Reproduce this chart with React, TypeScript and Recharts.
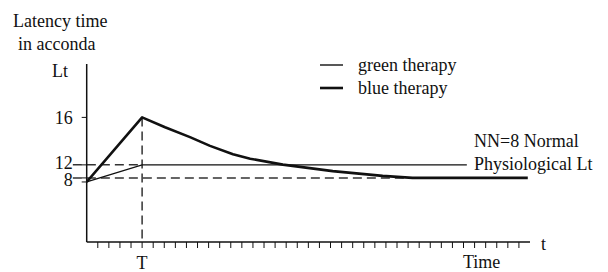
import React from "react";
import { LineChart, Line, XAxis, YAxis, ReferenceLine, Legend } from "recharts";

// Blue therapy curve (time units, Lt level units)
const blueTime = [0, 5, 7.07, 9.32, 11.13, 13.2, 14.75, 17.7, 22.2, 26.7, 29.4, 39.8];
const blueLt = [10.56, 16, 15.17, 14.34, 13.6, 12.89, 12.52, 12.02, 11.47, 11.07, 10.9, 10.9];
// Green therapy curve
const greenTime = [0, 5, 34.3];
const greenLt = [10.56, 12, 12];

const seriesNames = ["green therapy", "blue therapy"];

const yTicks = [10.56, 10.9, 12, 16];
const yTickLabels = ["", "8", "12", "16"];

const xTicks = [
  1, 2, 3, 4, 5, 6, 7, 8, 9, 10, 11, 12, 13, 14, 15, 16, 17, 18, 19, 20,
  21, 22, 23, 24, 25, 26, 27, 28, 29, 30, 31, 32, 33, 34, 35, 36, 37, 38, 39,
];
const tMark = 5;
const tMarkLabel = "T";

const normalLt = 10.9;
const therapyLt = 12;
const peakLt = 16;
const normalEnd = 29.4;

const blueData = blueTime.map((t, i) => ({ t, lt: blueLt[i] }));
const greenData = greenTime.map((t, i) => ({ t, lt: greenLt[i] }));

const FONT = "'Liberation Serif', 'Times New Roman', Times, 'DejaVu Serif', serif";
const FS = 18;
const INK = "#111";

const legendWidths = [1.4, 2.6];
// small vertical nudges so the crowded "12"/"8" labels sit as in the reference
const yLabelNudge: Record<string, number> = { "12": -2, "8": 2, "16": 1 };

const LegendContent = (props: any) => {
  const payload = [...(props.payload || [])].sort(
    (a: any, b: any) => seriesNames.indexOf(a.value) - seriesNames.indexOf(b.value)
  );
  return (
    <svg width={240} height={46} style={{ display: "block" }}>
      {payload.map((p: any, i: number) => (
        <g key={i}>
          <line x1={0} x2={23} y1={9 + i * 23} y2={9 + i * 23} stroke={INK} strokeWidth={legendWidths[i]} />
          <text x={38} y={14.5 + i * 23} style={{ fontFamily: FONT, fontSize: FS }} fill={INK}>
            {p.value}
          </text>
        </g>
      ))}
    </svg>
  );
};

const YTick = (props: any) => {
  const { x, y, payload } = props;
  const label = yTickLabels[yTicks.indexOf(payload.value)] ?? "";
  if (!label) return null;
  return (
    <text
      x={x}
      y={y + (yLabelNudge[label] || 0)}
      textAnchor="end"
      dominantBaseline="central"
      style={{ fontFamily: FONT, fontSize: FS }}
      fill={INK}
    >
      {label}
    </text>
  );
};

const tickStyle = { fontSize: FS, fontFamily: FONT, fill: INK, style: { fontFamily: FONT } };

export default function App() {
  const dash = "9 5";
  return (
    <div style={{ position: "relative", width: 600, height: 264, fontFamily: FONT }}>
      <LineChart
        width={600}
        height={264}
        margin={{ top: 56, right: 78, bottom: 0, left: 18.7 }}
        style={{ fontFamily: FONT }}
      >
        <XAxis
          type="number"
          dataKey="t"
          domain={[0, 40]}
          ticks={xTicks}
          interval={0}
          allowDataOverflow
          tickSize={6}
          tickMargin={8}
          height={30}
          tickFormatter={(v: number) => (v === tMark ? tMarkLabel : "")}
          axisLine={{ stroke: INK, strokeWidth: 1.5 }}
          tickLine={{ stroke: INK, strokeWidth: 1 }}
          tick={tickStyle}
        />
        <YAxis
          type="number"
          dataKey="lt"
          domain={[5.5, 20.5]}
          ticks={yTicks}
          interval={0}
          allowDataOverflow
          width={60}
          tickSize={5}
          tickMargin={9}
          axisLine={{ stroke: INK, strokeWidth: 1.5 }}
          tickLine={{ stroke: INK, strokeWidth: 1 }}
          tick={<YTick />}
        />
        <ReferenceLine
          segment={[{ x: -1.25, y: therapyLt }, { x: tMark, y: therapyLt }]}
          ifOverflow="visible"
          stroke="#333"
          strokeWidth={1.5}
          strokeDasharray={dash}
        />
        <ReferenceLine
          segment={[{ x: -1.25, y: normalLt }, { x: normalEnd, y: normalLt }]}
          ifOverflow="visible"
          stroke="#333"
          strokeWidth={1.5}
          strokeDasharray={dash}
        />
        <ReferenceLine
          segment={[{ x: tMark, y: peakLt }, { x: tMark, y: 5.5 }]}
          ifOverflow="visible"
          stroke="#333"
          strokeWidth={1.5}
          strokeDasharray={dash}
        />
        <Line
          data={greenData}
          dataKey="lt"
          name={seriesNames[0]}
          type="linear"
          stroke={INK}
          strokeWidth={1.4}
          dot={false}
          isAnimationActive={false}
        />
        <Line
          data={blueData}
          dataKey="lt"
          name={seriesNames[1]}
          type="linear"
          stroke={INK}
          strokeWidth={2.6}
          dot={false}
          strokeLinejoin="round"
          isAnimationActive={false}
        />
        <Legend
          layout="horizontal"
          verticalAlign="middle"
          align="center"
          content={LegendContent}
          wrapperStyle={{ position: "absolute", left: 312, top: 48, width: 240, height: 46 }}
        />
      </LineChart>
      <svg
        width={600}
        height={264}
        style={{ position: "absolute", left: 0, top: 0, pointerEvents: "none", overflow: "visible", fontFamily: FONT, fontSize: FS }}
        fill={INK}
      >
        <text x={5} y={19}>Latency time</text>
        <text x={10} y={42}>in acconda</text>
        <text x={44} y={69}>Lt</text>
        <text x={466} y={139}>NN=8 Normal</text>
        <text x={466} y={162}>Physiological Lt</text>
        <text x={533} y={242}>t</text>
        <text x={455} y={260}>Time</text>
      </svg>
    </div>
  );
}
